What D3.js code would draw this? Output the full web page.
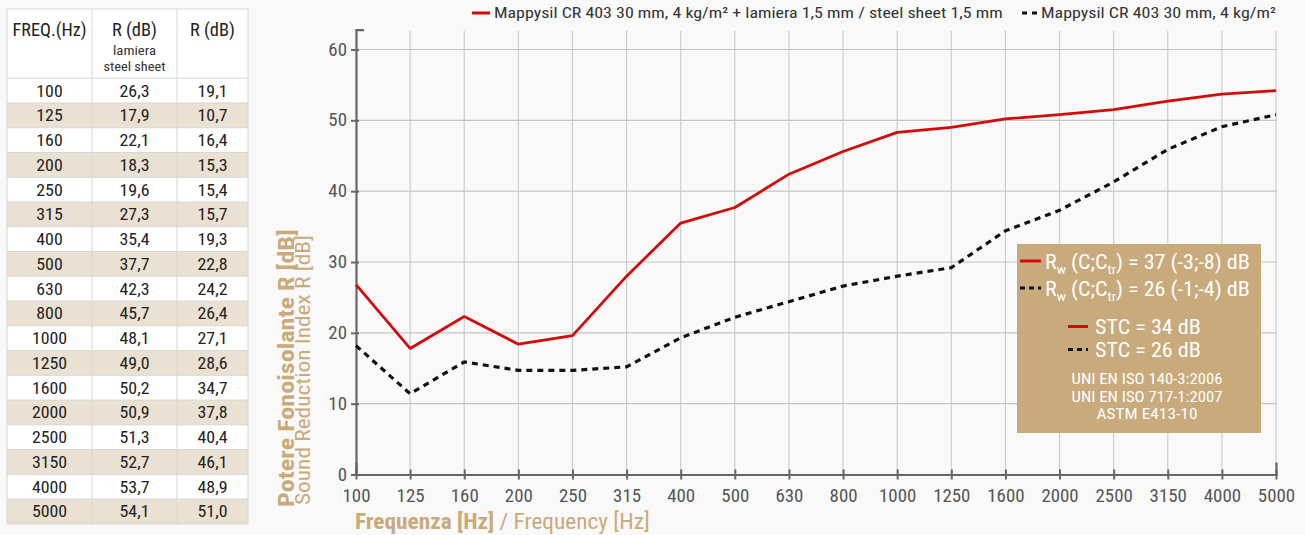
<!DOCTYPE html>
<html>
<head>
<meta charset="utf-8">
<script src="https://cdn.jsdelivr.net/npm/d3@7"></script>
<style>
  html, body { margin: 0; padding: 0; background: #f9f9f9; }
  svg { display: block; }
</style>
</head>
<body>
<svg id="chart" width="1305" height="535"></svg>
<script>
// ---------- data ----------
const freqs = ["100","125","160","200","250","315","400","500","630","800","1000","1250","1600","2000","2500","3150","4000","5000"];
// table values (as printed)
const tableSteel = ["26,3","17,9","22,1","18,3","19,6","27,3","35,4","37,7","42,3","45,7","48,1","49,0","50,2","50,9","51,3","52,7","53,7","54,1"];
const tablePlain = ["19,1","10,7","16,4","15,3","15,4","15,7","19,3","22,8","24,2","26,4","27,1","28,6","34,7","37,8","40,4","46,1","48,9","51,0"];
// plotted curves
const seriesSteel = [26.8,17.8,22.3,18.4,19.6,28.0,35.5,37.7,42.4,45.6,48.3,49.0,50.2,50.8,51.5,52.7,53.7,54.2];
const seriesPlain = [18.2,11.4,15.9,14.7,14.7,15.2,19.3,22.2,24.4,26.6,28.0,29.2,34.4,37.3,41.3,45.9,49.1,50.8];
const yTicks = [0,10,20,30,40,50,60];
const yMax = 62.8;
const legendSteel = "Mappysil CR 403 30 mm, 4 kg/m\u00B2 + lamiera 1,5 mm / steel sheet 1,5 mm";
const legendPlain = "Mappysil CR 403 30 mm, 4 kg/m\u00B2";
const tableHeader = ["FREQ.(Hz)", "R (dB)", "R (dB)"];
const tableSub = ["lamiera", "steel sheet"];
const boxRw = [
  {color: "steel", value: " = 37 (-3;-8) dB"},
  {color: "plain", value: " = 26 (-1;-4) dB"}
];
const boxStc = [
  {color: "steel", text: "STC = 34 dB"},
  {color: "plain", text: "STC = 26 dB"}
];
const boxNorms = ["UNI EN ISO 140-3:2006", "UNI EN ISO 717-1:2007", "ASTM E413-10"];

// ---------- style ----------
const FONT = "'Liberation Sans Narrow', 'Arial Narrow', 'Roboto Condensed', sans-serif";
const RED = "#d40a0a";
const GOLD = "#c9aa7a";
const BOXGOLD = "#c8aa7c";
const STRIPE = "#ebe1d2";

const svg = d3.select("#chart").style("font-family", FONT);

// stretch a text horizontally so it spans a given width (keeps its anchor point)
function fit(t, width) {
  const node = t.node();
  const w = node.getBBox().width;
  if (!w) return t;
  const s = width / w;
  const ax = +t.attr("x") || 0;
  t.attr("transform", `translate(${ax},0) scale(${s},1) translate(${-ax},0)`);
  return t;
}

// ---------- table ----------
const tbl = svg.append("g");
const colX = [7, 92, 177, 248];
const headTop = 9, headBottom = 78.2, rowH = 24.76;
tbl.append("rect").attr("x", colX[0]).attr("y", headTop).attr("width", colX[3]-colX[0]).attr("height", headBottom-headTop)
  .attr("fill", "#fff");
freqs.forEach((f, i) => {
  const y0 = headBottom + i*rowH;
  tbl.append("rect").attr("x", colX[0]).attr("y", y0).attr("width", colX[3]-colX[0]).attr("height", rowH)
    .attr("fill", i % 2 === 1 ? STRIPE : "#fff");
  [f, tableSteel[i], tablePlain[i]].forEach((t, c) => {
    const tx = tbl.append("text").attr("x", (colX[c]+colX[c+1])/2).attr("y", y0 + rowH/2 + 6)
      .attr("text-anchor", "middle").attr("font-size", 17).attr("fill", "#222").text(t);
    fit(tx, tx.node().getBBox().width * 1.05);
  });
  tbl.append("line").attr("x1", colX[0]).attr("x2", colX[3]).attr("y1", y0).attr("y2", y0)
    .attr("stroke", "#d6d6d6").attr("stroke-width", 1);
});
const tblBottom = headBottom + freqs.length*rowH;
[1,2].forEach(c => {
  tbl.append("line").attr("x1", colX[c]).attr("x2", colX[c]).attr("y1", headTop).attr("y2", tblBottom)
    .attr("stroke", "#d6d6d6").attr("stroke-width", 1);
});
tbl.append("rect").attr("x", colX[0]).attr("y", headTop).attr("width", colX[3]-colX[0]).attr("height", tblBottom-headTop)
  .attr("fill", "none").attr("stroke", "#d6d6d6").attr("stroke-width", 1);
const headW = [74, 45, 45];
tableHeader.forEach((t, c) => {
  const tx = tbl.append("text").attr("x", (colX[c]+colX[c+1])/2).attr("y", 36)
    .attr("text-anchor", "middle").attr("font-size", 18).attr("fill", "#222").text(t);
  fit(tx, headW[c]);
});
fit(tbl.append("text").attr("x", (colX[1]+colX[2])/2).attr("y", 55).attr("text-anchor", "middle")
  .attr("font-size", 13.5).attr("fill", "#333").text(tableSub[0]), 43);
fit(tbl.append("text").attr("x", (colX[1]+colX[2])/2).attr("y", 71.5).attr("text-anchor", "middle")
  .attr("font-size", 13.5).attr("fill", "#333").text(tableSub[1]), 62);

// ---------- scales ----------
const x = d3.scalePoint().domain(freqs).range([356, 1276]);
const y = d3.scaleLinear().domain([0, yMax]).range([474.5, 474.5 - yMax*7.083]);

// gridlines
const grid = svg.append("g");
grid.selectAll(".vg").data(freqs.slice(1)).join("line")
  .attr("x1", d => x(d)).attr("x2", d => x(d)).attr("y1", y(yMax)+1).attr("y2", y(0))
  .attr("stroke", "#cdcdcd").attr("stroke-width", 1.2);
grid.selectAll(".hg").data(yTicks.slice(1)).join("line")
  .attr("x1", x(freqs[0])).attr("x2", x(freqs[freqs.length-1])+1).attr("y1", d => y(d)).attr("y2", d => y(d))
  .attr("stroke", "#c4c4c4").attr("stroke-width", 1.2);

// axes
const yAxis = svg.append("g").attr("transform", `translate(${x(freqs[0])},0)`)
  .call(d3.axisLeft(y).tickValues(yTicks).tickSize(5).tickSizeOuter(-8).tickPadding(4));
yAxis.selectAll(".tick line").attr("x1", 3);
const xAxis = svg.append("g").attr("transform", `translate(0,${y(0)})`)
  .call(d3.axisBottom(x).tickSize(5).tickSizeOuter(-12).tickPadding(8));
xAxis.selectAll(".tick line").attr("y1", -5);
[yAxis, xAxis].forEach(a => {
  a.select(".domain").attr("stroke", "#666").attr("stroke-width", 2.2);
  a.selectAll(".tick line").attr("stroke", "#666").attr("stroke-width", 2);
  a.selectAll(".tick text").attr("fill", "#555").attr("font-size", 17.5).attr("font-family", FONT);
});
xAxis.selectAll(".tick text").attr("dy", "0.85em");
xAxis.selectAll(".tick text").each(function() { const t = d3.select(this); fit(t, this.getBBox().width * 1.08); });
yAxis.selectAll(".tick text").each(function() { const t = d3.select(this); fit(t, this.getBBox().width * 1.08); });

// lines
const line = d3.line().x((d, i) => x(freqs[i])).y(d => y(d));
svg.append("path").datum(seriesPlain).attr("d", line).attr("fill", "none")
  .attr("stroke", "#111").attr("stroke-width", 3.2).attr("stroke-dasharray", "6,5");
svg.append("path").datum(seriesSteel).attr("d", line).attr("fill", "none")
  .attr("stroke", RED).attr("stroke-width", 2.8).attr("stroke-linejoin", "round");

// ---------- top legend ----------
const leg = svg.append("g");
leg.append("line").attr("x1", 472).attr("x2", 490).attr("y1", 13).attr("y2", 13).attr("stroke", RED).attr("stroke-width", 3);
fit(leg.append("text").attr("x", 494).attr("y", 18.5).attr("font-size", 15).attr("fill", "#333").text(legendSteel), 509);
leg.append("line").attr("x1", 1022).attr("x2", 1037).attr("y1", 13).attr("y2", 13).attr("stroke", "#111")
  .attr("stroke-width", 3).attr("stroke-dasharray", "5,5");
fit(leg.append("text").attr("x", 1041).attr("y", 18.5).attr("font-size", 15).attr("fill", "#333").text(legendPlain), 235);

// ---------- gold box ----------
const box = svg.append("g");
box.append("rect").attr("x", 1017).attr("y", 244).attr("width", 244).attr("height", 189).attr("fill", BOXGOLD);
function sample(g, x1, x2, yy, kind) {
  g.append("line").attr("x1", x1).attr("x2", x2).attr("y1", yy).attr("y2", yy)
    .attr("stroke", kind === "steel" ? RED : "#111").attr("stroke-width", 3)
    .attr("stroke-dasharray", kind === "steel" ? null : "5,4");
}
boxRw.forEach((r, i) => {
  const base = 269 + i*27;
  sample(box, 1020, 1041, base - 8, r.color);
  const t = box.append("text").attr("x", 1045).attr("y", base).attr("font-size", 19.5).attr("fill", "#fff");
  t.append("tspan").text("R");
  t.append("tspan").attr("font-size", 12.5).attr("dy", 5).text("w");
  t.append("tspan").attr("dy", -5).text(" (C;C");
  t.append("tspan").attr("font-size", 12.5).attr("dy", 5).text("tr");
  t.append("tspan").attr("dy", -5).text(")" + r.value);
  fit(t, 205);
});
boxStc.forEach((s, i) => {
  const base = 334.5 + i*23;
  sample(box, 1068, 1088, base - 8, s.color);
  fit(box.append("text").attr("x", 1095).attr("y", base).attr("font-size", 19.5).attr("fill", "#fff").text(s.text), 106);
});
const normW = [151, 151, 101];
boxNorms.forEach((n, i) => {
  fit(box.append("text").attr("x", 1147).attr("y", 384.5 + i*17.5).attr("text-anchor", "middle")
    .attr("font-size", 14.5).attr("fill", "#fff").text(n), normW[i]);
});

// ---------- axis titles ----------
const yt = svg.append("g").attr("transform", "translate(294,507) rotate(-90)");
fit(yt.append("text").attr("x", 0).attr("y", 0).attr("font-size", 22).attr("font-weight", "bold").attr("fill", GOLD)
  .text("Potere Fonoisolante R [dB]"), 278);
fit(yt.append("text").attr("x", 2).attr("y", 16).attr("font-size", 20.5).attr("fill", GOLD)
  .text("Sound Reduction Index R [dB]"), 270);

const xt = svg.append("text").attr("x", 355).attr("y", 529).attr("font-size", 21.5).attr("fill", GOLD);
xt.append("tspan").attr("font-weight", "bold").text("Frequenza [Hz]");
xt.append("tspan").text(" / Frequency [Hz]");
fit(xt, 295);
</script>
</body>
</html>
